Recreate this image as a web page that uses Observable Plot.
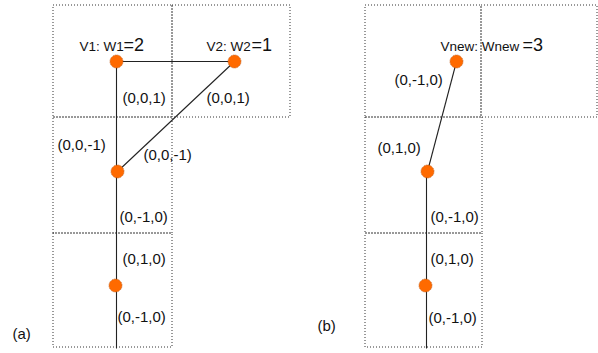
<!DOCTYPE html>
<html>
<head>
<meta charset="utf-8">
<script src="https://cdn.jsdelivr.net/npm/d3@7"></script>
<script src="https://cdn.jsdelivr.net/npm/@observablehq/plot@0.6"></script>
<style>
  html, body { margin: 0; padding: 0; background: #fff; }
  svg { font-family: "Liberation Sans", Arial, sans-serif; }
</style>
</head>
<body>
<div id="chart"></div>
<script>
// Grid cells (dotted boxes), in diagram units
const cellX1 = [53, 172, 53, 53, 365, 481, 365, 365];
const cellX2 = [172, 290, 172, 172, 481, 597, 482, 482];
const cellY1 = [5, 5, 117, 233, 5, 5, 117, 233];
const cellY2 = [117, 117, 233, 347, 117, 117, 233, 347];

// Nodes
const nodeX = [116, 234, 117, 115, 456, 427, 425];
const nodeY = [61, 61, 171, 285, 61, 171, 285];

// Edges
const edgeX1 = [116, 116, 234, 456, 426];
const edgeY1 = [61, 61, 61, 61, 171];
const edgeX2 = [234, 116, 117, 427, 426];
const edgeY2 = [61, 348, 171, 171, 348];

// Direction labels
const dirText = ["(0,0,1)", "(0,0,1)", "(0,0,-1)", "(0,0,-1)", "(0,-1,0)", "(0,1,0)", "(0,-1,0)",
                 "(0,-1,0)", "(0,1,0)", "(0,-1,0)", "(0,1,0)", "(0,-1,0)"];
const dirX = [122, 206, 57, 143, 119, 122, 117, 394, 377, 430, 430, 428];
const dirY = [98, 98, 145, 155, 217, 259, 317, 80, 148, 217, 259, 318];

// Node weight labels (small part + large part)
const smallText = ["V1: W1", "V2: W2", "Vnew: Wnew"];
const smallX = [79, 206, 440];
const largeText = ["=2", "=1", "=3"];
const largeX = [123, 251, 522];
const weightY = [46, 46, 46];

// Panel labels
const panelText = ["(a)", "(b)"];
const panelX = [12, 317];
const panelY = [334, 326];

const cells = cellX1.map((d, i) => ({x1: d, x2: cellX2[i], y1: cellY1[i], y2: cellY2[i]}));
const nodes = nodeX.map((d, i) => ({x: d, y: nodeY[i]}));
const edges = edgeX1.map((d, i) => ({x1: d, y1: edgeY1[i], x2: edgeX2[i], y2: edgeY2[i]}));
const dirs = dirText.map((t, i) => ({t, x: dirX[i], y: dirY[i]}));
const smalls = smallText.map((t, i) => ({t, x: smallX[i], y: weightY[i]}));
const larges = largeText.map((t, i) => ({t, x: largeX[i], y: weightY[i] - 0.8}));
const panels = panelText.map((t, i) => ({t, x: panelX[i], y: panelY[i]}));

const chart = Plot.plot({
  width: 598,
  height: 353,
  margin: 0,
  x: {domain: [0, 598], range: [0, 598], axis: null},
  y: {domain: [0, 353], range: [0, 353], axis: null},
  marks: [
    Plot.rect(cells, {x1: "x1", x2: "x2", y1: "y1", y2: "y2", fill: "none",
      stroke: "#333", strokeWidth: 1, strokeDasharray: "1,2"}),
    Plot.link(edges, {x1: "x1", y1: "y1", x2: "x2", y2: "y2", stroke: "#222", strokeWidth: 1.1}),
    Plot.dot(nodes, {x: "x", y: "y", r: 6.5, fill: "#ff6a00", stroke: "#b84a00",
      strokeWidth: 0.8, strokeDasharray: "1,1"}),
    Plot.text(dirs, {x: "x", y: "y", text: "t", textAnchor: "start", fontSize: 15, fill: "#111"}),
    Plot.text(smalls, {x: "x", y: "y", text: "t", textAnchor: "start", fontSize: 13.5, fill: "#111"}),
    Plot.text(larges, {x: "x", y: "y", text: "t", textAnchor: "start", fontSize: 18, fill: "#111"}),
    Plot.text(panels, {x: "x", y: "y", text: "t", textAnchor: "start", fontSize: 15, fill: "#111"})
  ]
});
document.getElementById("chart").appendChild(chart);
</script>
</body>
</html>
